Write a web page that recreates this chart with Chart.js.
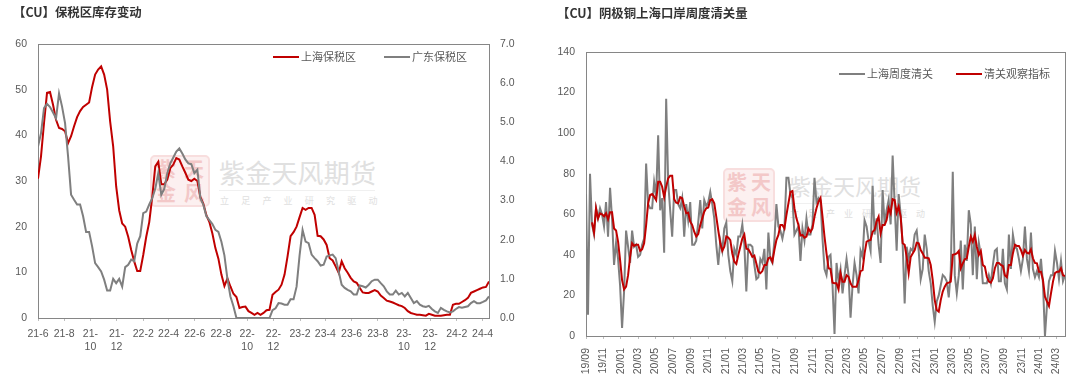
<!DOCTYPE html>
<html>
<head>
<meta charset="utf-8">
<title>CU</title>
<script src="https://cdn.jsdelivr.net/npm/chart.js@4/dist/chart.umd.min.js"></script>
<style>
    body { margin: 0; background: #fff; width: 1080px; height: 380px; overflow: hidden; position: relative; font-family: "Noto Sans CJK SC", sans-serif; }
    canvas { position: absolute; top: 0; }
    .title { position: absolute; font-size: 12.4px; font-weight: 700; color: #333; line-height: 16px; white-space: nowrap; }
    .legend-line { position: absolute; height: 2px; }
    .legend-text { position: absolute; font-size: 11px; color: #595959; line-height: 14px; white-space: nowrap; }
    .mark { position: absolute; color: #e0e0e0; white-space: nowrap; }
    .mark-rule { position: absolute; height: 1px; background: #f0f0f0; }
    .seal { position: absolute; box-sizing: border-box; border: 2px solid #f8dede; border-radius: 5px; background: #fcf0f0; color: #f3c8c8; font-weight: 700; font-family: "Noto Sans CJK SC"; display: grid; grid-template-columns: 1fr 1fr; text-align: center; line-height: 24px; font-size: 20px; }
</style>
</head>
<body>
<div class="seal" style="left:150px;top:155px;width:60px;height:52px;"><span>紫</span><span>天</span><span>金</span><span>风</span></div>
<div class="mark" style="left:219px;top:155px;font-size:26px;letter-spacing:0.2px;line-height:34px;">紫金天风期货</div>
<div class="mark-rule" style="left:219px;top:190px;width:156px;"></div>
<div class="mark" style="left:220px;top:194px;font-size:9px;letter-spacing:12.2px;line-height:14px;">立足产业研究驱动</div>

<div class="seal" style="left:723px;top:168px;width:52px;height:54px;"><span>紫</span><span>天</span><span>金</span><span>风</span></div>
<div class="mark" style="left:789px;top:168px;font-size:22px;line-height:34px;">紫金天风期货</div>
<div class="mark-rule" style="left:789px;top:203px;width:131px;"></div>
<div class="mark" style="left:790px;top:207px;font-size:9px;letter-spacing:9px;line-height:14px;">立足产业研究驱动</div>

<canvas id="stockChart" width="540" height="380" style="left:0"></canvas>
<canvas id="clearChart" width="540" height="380" style="left:540px"></canvas>

<div class="title" style="left:13px;top:4px;">【CU】保税区库存变动</div>
<div class="title" style="left:557px;top:5px;">【CU】阴极铜上海口岸周度清关量</div>

<div class="legend-line" style="left:273px;top:56px;width:26px;background:#C00000;"></div>
<div class="legend-text" style="left:301px;top:49px;">上海保税区</div>
<div class="legend-line" style="left:384px;top:56px;width:26px;background:#7F7F7F;"></div>
<div class="legend-text" style="left:412px;top:49px;">广东保税区</div>
<div class="legend-line" style="left:839px;top:73px;width:26px;background:#7F7F7F;"></div>
<div class="legend-text" style="left:867px;top:66px;">上海周度清关</div>
<div class="legend-line" style="left:956px;top:73px;width:26px;background:#C00000;"></div>
<div class="legend-text" style="left:984px;top:66px;">清关观察指标</div>

<script>
const stockTickLabels = ['21-6', '21-8', '21-10', '21-12', '22-2', '22-4', '22-6', '22-8', '22-10', '22-12', '23-2', '23-4', '23-6', '23-8', '23-10', '23-12', '24-2', '24-4'];
const clearTickLabels = ['19/09', '19/11', '20/01', '20/03', '20/05', '20/07', '20/09', '20/11', '21/01', '21/03', '21/05', '21/07', '21/09', '21/11', '22/01', '22/03', '22/05', '22/07', '22/09', '22/11', '23/01', '23/03', '23/05', '23/07', '23/09', '23/11', '24/01', '24/03'];

// weekly, left axis
const shanghaiStock = [
    30.5, 35.4, 42.7, 49.3, 49.5, 46.7, 43.4, 41.6, 41.4, 40.9,
    38.3, 39.8, 42, 44, 45.3, 46.2, 46.7, 47.2, 50.6, 53.3,
    54.4, 55.1, 53.3, 50, 43, 37.6, 28.8, 23.6, 20.7, 20,
    17.8, 14.9, 12.4, 10.3, 10.3, 13.8, 17.8, 21, 26.5, 33.2,
    34.2, 29.3, 29.3, 30.3, 32.8, 33.6, 35, 34.7, 33.2, 31.8,
    30.3, 30, 30.5, 30, 26.5, 25, 22.5, 21, 18.5, 15.3,
    13, 9.5, 7, 8.7, 6.9, 5.3, 4.6, 2.2, 2.4, 2.5,
    1.5, 1.1, 0.7, 1.1, 0.7, 1.1, 1.7, 1.8, 5.1, 5.7,
    6.2, 7.3, 9.5, 13.5, 17.9, 18.8, 20, 22.1, 24.1, 23.7,
    24.1, 24.1, 22.6, 18, 17.9, 17.2, 16, 13.1, 12.6, 11.3,
    9.9, 12.4, 10.9, 9.9, 8.8, 8, 7.7, 6.6, 5.6, 5.5,
    5.5, 5.8, 6.1, 5.8, 4.9, 4.4, 3.8, 3.6, 3.4, 3.1,
    2.8, 2.6, 2.2, 1.5, 1.1, 0.9, 0.7, 0.7, 0.6, 0.5,
    0.9, 0.7, 0.5, 0.5, 0.5, 0.6, 0.7, 0.7, 2.9, 3.1,
    3.1, 3.5, 3.9, 4.4, 5.5, 5.8, 6.1, 6.4, 6.7, 6.8, 8
];
// weekly, right axis
const guangdongStock = [
    4.38, 4.72, 5.36, 5.47, 5.39, 5.25, 5.1, 5.74, 5.4, 4.98,
    4.13, 3.15, 3.02, 2.9, 2.9, 2.6, 2.2, 2.2, 1.83, 1.4,
    1.3, 1.19, 0.98, 0.7, 0.7, 1, 0.89, 1, 0.8, 1.3,
    1.36, 1.49, 1.45, 1.9, 2.09, 2.68, 2.72, 2.9, 3.06, 3.3,
    3.7, 3.15, 3.3, 3.7, 3.95, 4.1, 4.25, 4.33, 4.2, 4.05,
    3.95, 3.93, 3.7, 3.79, 3.06, 2.89, 2.6, 2.5, 2.4, 2.25,
    2.2, 1.95, 1.6, 1, 0.55, 0.3, 0, 0, 0, 0,
    0, 0, 0, 0, 0, 0, 0, 0, 0.2, 0.25,
    0.38, 0.37, 0.34, 0.34, 0.48, 0.48, 0.8, 1.6, 2.25, 1.95,
    1.91, 1.62, 1.53, 1.45, 1.34, 1.36, 1.57, 1.6, 1.62, 1.53,
    1.19, 0.85, 0.77, 0.72, 0.68, 0.6, 0.6, 0.83, 0.81, 0.78,
    0.85, 0.94, 0.98, 0.98, 0.89, 0.81, 0.68, 0.6, 0.6, 0.7,
    0.6, 0.64, 0.55, 0.64, 0.51, 0.38, 0.43, 0.34, 0.3, 0.28,
    0.31, 0.23, 0.17, 0.13, 0.26, 0.21, 0.17, 0.14, 0.17, 0.23,
    0.28, 0.26, 0.28, 0.3, 0.38, 0.43, 0.38, 0.38, 0.41, 0.45, 0.55
];
const shanghaiClear = [
    70, 10.5, 80, 55, 50, 63, 58, 63, 60, 54,
    66, 49, 73, 58, 35, 46, 38, 25, 4, 22,
    52, 44, 36, 52, 44, 45, 39, 40, 45, 48,
    85, 65, 63, 63, 76, 69, 99, 62, 68, 41,
    117, 76, 62, 49, 72, 72, 65, 63, 68, 49,
    65, 57, 66, 45, 45, 47, 56, 67, 53, 67,
    64, 66, 71, 65, 58, 45, 35, 47, 42, 53,
    56, 40, 32, 27, 43, 40, 49, 49, 55, 45,
    22, 45, 45, 44, 35, 28, 29, 38, 36, 43,
    23, 51, 38, 36, 47, 65, 54, 52, 48, 53,
    78, 78, 70, 68, 50, 52, 54, 37, 53, 47,
    58, 50, 50, 55, 78, 66, 68, 67, 48, 33,
    30, 39, 40, 25, 1, 36, 27, 33, 21, 30,
    38, 30, 9, 25, 36, 30, 21, 42, 39, 57,
    54, 47, 42, 74, 50, 58, 45, 36, 72, 55,
    62, 67, 55, 89, 65, 42, 70, 60, 45, 16,
    44, 38, 43, 42, 50, 52, 42, 28, 33, 50,
    43, 32, 26, 15, 7, 17, 20, 25, 30, 29,
    27, 19, 32, 81, 30, 21, 30, 47, 23, 45,
    37, 62, 55, 30, 54, 28, 46, 40, 26, 26,
    26, 30, 26, 35, 42, 43, 27, 27, 43, 26,
    23, 50, 33, 50, 44, 43, 38, 32, 38, 54,
    38, 32, 51, 33, 29, 32, 29, 38, 26, 0,
    15, 27, 30, 30, 42, 36, 28, 37, 27, 30
];
const clearIndicator = [
    null, null, null, 56, 51, 63, 58, 60.5, 60, 59,
    60.5, 57.5, 61, 61, 53, 52, 46.5, 37.5, 27.6, 23,
    24.3, 30, 39, 45.7, 44.4, 45, 45, 42, 42.7, 45.7,
    54.7, 65.4, 69.5, 70, 68.7, 67, 76, 76, 73.6, 68.4,
    73.6, 77.7, 79, 79, 67.4, 65.7, 65.4, 68.4, 67.9, 63.8,
    60.5, 60.8, 56.4, 54.7, 51.4, 49, 50.3, 54.7, 58, 61.3,
    63, 63.4, 67, 67.4, 65.4, 58.8, 52, 45.7, 42, 44,
    49, 48.5, 47.3, 40.7, 36.6, 35.5, 40, 44, 48, 50,
    43, 42.7, 41, 39, 39.6, 35.8, 31.7, 31, 32, 35,
    35, 38.3, 38.8, 36.6, 42.4, 47.3, 49.8, 54.7, 54.7, 53,
    59.6, 65.4, 71, 71.5, 63, 58, 54.7, 49.5, 49.8, 48.5,
    49, 53, 51.4, 53, 58.8, 63, 66.2, 68, 58.8, 49,
    40.7, 33.4, 33, 26.3, 26, 26, 23, 31, 26.8, 26.8,
    30, 29.2, 26, 24.3, 24.3, 24.3, 27.6, 32, 32.5, 40.7,
    46.5, 47, 47.3, 51.4, 52.3, 56.4, 58.8, 50.6, 54.7, 54.7,
    57.2, 63, 60.5, 67.4, 67, 60.8, 63.8, 58.8, 45.7, 45,
    39, 31, 39, 40.7, 42.4, 46, 45.7, 42.4, 40.7, 38.6,
    38.6, 38.3, 35, 27.6, 17.7, 12.8, 12, 17.7, 21.9, 24.3,
    26, 26.3, 26.8, 40, 40.3, 40.7, 41.9, 33.4, 35.8, 37.8,
    38.3, 44, 49, 46.5, 49.8, 44, 40, 41.9, 35, 34.2,
    29.2, 26.8, 26.3, 28.4, 33.4, 36, 36, 35, 34.5, 30,
    29, 35, 35, 40.7, 45, 44.4, 44.4, 42.4, 39.6, 42.4,
    41, 40.7, 42.7, 38.3, 36, 35.8, 31.7, 31.7, 27.6, 19.4,
    17, 14.8, 21, 26.8, 31, 31.7, 31.7, 33.4, 30, 29.6
];

const RED = '#C00000';
const GRAY = '#7F7F7F';
const TICK_COLOR = '#595959';
const TICK_FONT = { family: 'Liberation Sans', size: 10.5, lineHeight: 1.3 };
const DAY = 86400000;

// x axis is days since the first tick, points are one week apart
function dayOfTick(label, startLabel) {
    const parts = label.split(/[-\/]/);
    const start = startLabel.split(/[-\/]/);
    return (Date.UTC(2000 + +parts[0], parts[1] - 1, 1) - Date.UTC(2000 + +start[0], start[1] - 1, 1)) / DAY;
}

function toPoints(values) {
    return values.map((value, i) => ({ x: i * 7, y: value }));
}

const plotBox = {
    id: 'plotBox',
    beforeDatasetsDraw(chart) {
        const area = chart.chartArea;
        const ctx = chart.ctx;
        ctx.save();
        ctx.strokeStyle = '#868686';
        ctx.lineWidth = 1;
        ctx.strokeRect(area.left + 0.5, area.top + 0.5, area.right - area.left, area.bottom - area.top);
        ctx.restore();
    }
};

function xAxis(tickLabels, maxDay, height, rotation, padding, labelFn) {
    return {
        type: 'linear',
        min: 0,
        max: maxDay,
        border: { display: false },
        grid: { drawOnChartArea: false, drawTicks: true, tickLength: 3, color: '#BFBFBF' },
        afterBuildTicks(scale) {
            scale.ticks = tickLabels.map(label => ({ value: dayOfTick(label, tickLabels[0]) }));
        },
        afterFit(scale) { scale.height = height; },
        ticks: {
            autoSkip: false,
            maxRotation: rotation,
            minRotation: rotation,
            padding: padding,
            color: TICK_COLOR,
            font: TICK_FONT,
            callback(value, index) { return labelFn(tickLabels[index]); }
        }
    };
}

function yAxis(position, max, step, width, digits) {
    return {
        position: position,
        min: 0,
        max: max,
        border: { display: false },
        grid: { display: false },
        afterFit(scale) { scale.width = width; },
        ticks: {
            stepSize: step,
            padding: 3,
            color: TICK_COLOR,
            font: TICK_FONT,
            callback(value) { return value.toFixed(digits); }
        }
    };
}

new Chart(document.getElementById('stockChart').getContext('2d'), {
    type: 'line',
    plugins: [plotBox],
    data: {
        datasets: [
            { label: '上海保税区', data: toPoints(shanghaiStock), yAxisID: 'y', borderColor: RED, borderWidth: 2, pointRadius: 0, tension: 0, order: 2 },
            { label: '广东保税区', data: toPoints(guangdongStock), yAxisID: 'y1', borderColor: GRAY, borderWidth: 2, pointRadius: 0, tension: 0, order: 1 }
        ]
    },
    options: {
        responsive: false,
        animation: false,
        layout: { padding: { top: 44 } },
        plugins: { legend: { display: false }, title: { display: false }, tooltip: { enabled: false } },
        scales: {
            x: xAxis(stockTickLabels, 1050, 62, 0, 6, label => {
                const parts = label.split('-');
                return parts[1].length > 1 ? [parts[0] + '-', parts[1]] : label;
            }),
            y: yAxis('left', 60, 10, 38, 0),
            y1: yAxis('right', 7, 1, 51, 1)
        }
    }
});

new Chart(document.getElementById('clearChart').getContext('2d'), {
    type: 'line',
    plugins: [plotBox],
    data: {
        datasets: [
            { label: '上海周度清关', data: toPoints(shanghaiClear), borderColor: GRAY, borderWidth: 2, pointRadius: 0, tension: 0, order: 2 },
            { label: '清关观察指标', data: toPoints(clearIndicator), borderColor: RED, borderWidth: 2, pointRadius: 0, tension: 0, order: 1 }
        ]
    },
    options: {
        responsive: false,
        animation: false,
        layout: { padding: { top: 52, right: 15 } },
        plugins: { legend: { display: false }, title: { display: false }, tooltip: { enabled: false } },
        scales: {
            x: xAxis(clearTickLabels, 1673, 44, 90, 9, label => label),
            y: yAxis('left', 140, 20, 46, 0)
        }
    }
});
</script>
</body>
</html>
